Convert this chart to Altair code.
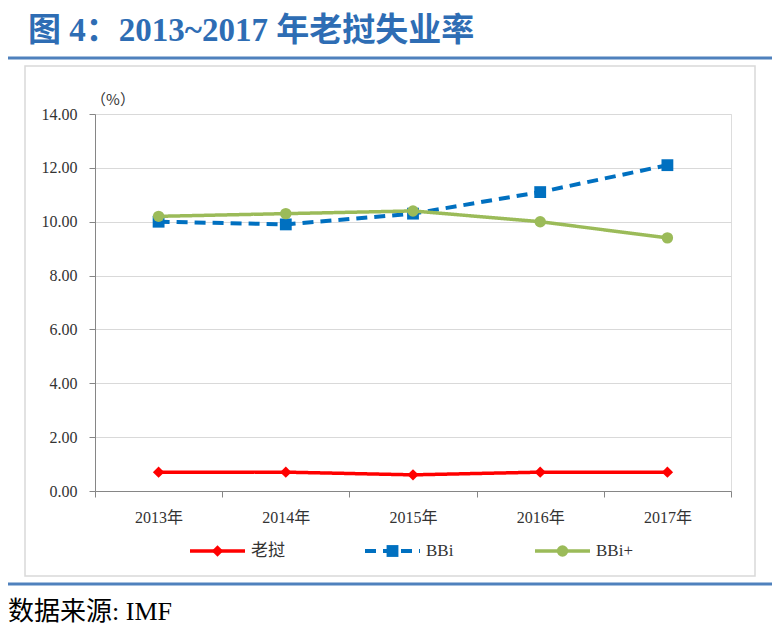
import altair as alt
import pandas as pd

years = ["2013年", "2014年", "2015年", "2016年", "2017年"]
series_names = ["老挝", "BBi", "BBi+"]
laos = [0.7, 0.7, 0.6, 0.7, 0.7]
bbi = [10.0, 9.9, 10.3, 11.1, 12.1]
bbi_plus = [10.2, 10.3, 10.4, 10.0, 9.4]
y_ticks = [0, 2, 4, 6, 8, 10, 12, 14]

colors = {"老挝": "#FF0000", "BBi": "#0070C0", "BBi+": "#9BBB59"}
shapes = {"老挝": "diamond", "BBi": "square", "BBi+": "circle"}
dashes = {"老挝": [1, 0], "BBi": [11, 7], "BBi+": [1, 0]}
widths = {"老挝": 3.5, "BBi": 4, "BBi+": 3.5}
sizes = {"老挝": 130, "BBi": 140, "BBi+": 130}

FONT = "Liberation Serif, Times New Roman, Noto Sans CJK SC"
PW, PH = 636, 377
OX, OY = 95, 114  # plot origin on page

rows = []
for name, vals in zip(series_names, [laos, bbi, bbi_plus]):
    for y, v in zip(years, vals):
        rows.append({"year": y, "series": name, "value": v})
df = pd.DataFrame(rows)

xenc = alt.X("year:N", sort=years,
             scale=alt.Scale(type="band", domain=years, paddingInner=0, paddingOuter=0),
             axis=alt.Axis(title=None, labelAngle=0, tickBand="extent", grid=False,
                           domainColor="#868686", tickColor="#868686", tickSize=6,
                           labelFont=FONT, labelFontSize=16, labelColor="#333333",
                           labelPadding=12))
yenc = alt.Y("value:Q", scale=alt.Scale(domain=[0, 14], nice=False),
             axis=alt.Axis(title=None, values=y_ticks, format=".2f",
                           gridColor="#D9D9D9", domainColor="#868686", tickColor="#868686",
                           tickSize=6, labelFont=FONT, labelFontSize=16, labelColor="#333333",
                           labelPadding=12))

layers = []
for name in series_names:
    sub = df[df.series == name]
    base = alt.Chart(sub)
    layers.append(base.mark_line(color=colors[name], strokeWidth=widths[name],
                                 strokeDash=dashes[name]).encode(x=xenc, y=yenc))
    layers.append(base.mark_point(shape=shapes[name], filled=True, opacity=1,
                                  color=colors[name], size=sizes[name]).encode(x=xenc, y=yenc))

# legend (custom, Excel style)
leg_x = {"老挝": 190, "BBi": 365, "BBi+": 535}
leg_y = 551 - OY
one = pd.DataFrame({"a": [0]})
for name in series_names:
    lx = leg_x[name] - OX
    lc = alt.Chart(one)
    layers.append(lc.mark_rule(color=colors[name], strokeWidth=widths[name],
                               strokeDash=dashes[name]).encode(
        x=alt.value(lx), x2=alt.value(lx + 55), y=alt.value(leg_y)))
    layers.append(lc.mark_point(shape=shapes[name], filled=True, opacity=1,
                                color=colors[name], size=sizes[name]).encode(
        x=alt.value(lx + 27.5), y=alt.value(leg_y)))
    layers.append(lc.mark_text(text=name, align="left", baseline="middle", font=FONT,
                               fontSize=17, color="#333333").encode(
        x=alt.value(lx + 61), y=alt.value(leg_y)))

deco = alt.Chart(one)
# unit label
layers.append(deco.mark_text(text="（%）", align="center", baseline="middle",
                             font="Noto Sans CJK SC", fontSize=15, color="#333333").encode(
    x=alt.value(113 - OX), y=alt.value(100 - OY)))
# title
layers.append(deco.mark_text(text="图 4：2013~2017 年老挝失业率", align="left",
                             baseline="alphabetic", font=FONT, fontSize=33, fontWeight="bold",
                             color="#2E6DB4").encode(
    x=alt.value(28 - OX), y=alt.value(41 - OY)))
# blue separators
for yy in [58, 584]:
    layers.append(deco.mark_rule(color="#4F81BD", strokeWidth=3).encode(
        x=alt.value(5 - OX), x2=alt.value(780 - OX), y=alt.value(yy - OY)))
# border box
layers.append(deco.mark_rect(fill=None, stroke="#D9D9D9", strokeWidth=1.5).encode(
    x=alt.value(25 - OX), x2=alt.value(755 - OX), y=alt.value(66 - OY), y2=alt.value(576 - OY)))
# source
layers.append(deco.mark_text(text="数据来源: IMF", align="left", baseline="alphabetic",
                             font=FONT, fontSize=26, color="#000000").encode(
    x=alt.value(8 - OX), y=alt.value(620 - OY)))

chart = alt.layer(*layers).properties(
    width=PW, height=PH,
    autosize=alt.AutoSizeParams(type="none"),
    padding={"left": OX - 8, "top": OY - 8, "right": 764 - (OX - 8) - PW, "bottom": 622 - (OY - 8) - PH},
).configure_view(stroke=None).configure(background="white")

chart.save("out.html", embed_options={"renderer": "svg", "actions": False})
